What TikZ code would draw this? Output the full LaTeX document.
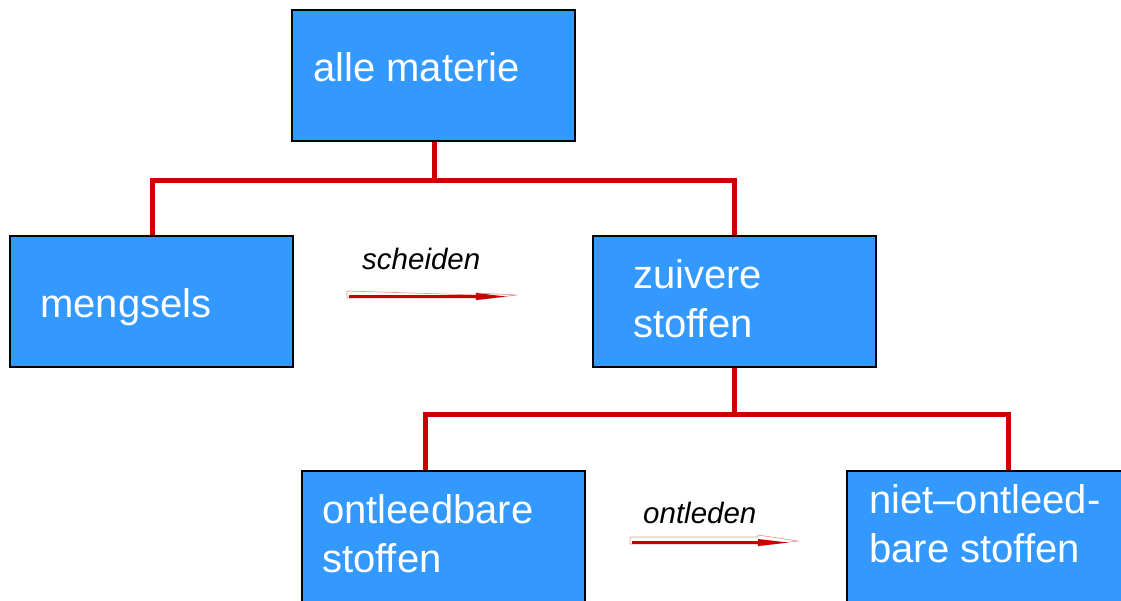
\documentclass[tikz,border=0pt]{standalone}
\usepackage{fontspec}
\setmainfont{Liberation Sans}
\usetikzlibrary{calc}
\definecolor{boxblue}{RGB}{51,153,255}
\definecolor{linered}{RGB}{204,0,0}
\definecolor{arrowred}{RGB}{200,0,0}
\definecolor{arrowpink}{RGB}{240,150,150}
\tikzset{
  catbox/.style={draw=black, line width=1.5pt, fill=boxblue, minimum width=283pt, minimum height=131pt, inner sep=0pt, outer sep=0pt, anchor=north west},
  boxtext/.style={text=white, font=\fontsize{40}{49}\selectfont, align=left, anchor=base west, inner sep=0pt},
  verb/.style={font=\fontsize{29.5}{34}\selectfont\itshape, anchor=base west, inner sep=0pt},
  tree/.style={draw=linered, line width=5pt},
  arrowbody/.style={draw=arrowpink, line width=0.7pt, fill=white},
  arrowshaft/.style={draw=arrowred, line width=2.5pt},
  arrowheadfill/.style={fill=arrowred},
}
\begin{document}
\begin{tikzpicture}[x=1pt,y=-1pt]
\useasboundingbox (0,0) rectangle (1121,600);
\begin{scope}
\clip (0,0) rectangle (1121,600);
% box positions as coordinates
\coordinate (alleNW) at (292,10);
\coordinate (mengNW) at (10,236);
\coordinate (zuivNW) at (593,236);
\coordinate (ontlNW) at (302,471);
\coordinate (nietNW) at (847,471);
% connector attachment points
\coordinate (alleS) at (434,141);
\coordinate (mengN) at (152,236);
\coordinate (zuivN) at (734,236);
\coordinate (zuivS) at (734,367);
\coordinate (ontlN) at (425,471);
\coordinate (nietN) at (1008,471);
% tree connectors
\draw[tree] (alleS) -- (alleS |- 0,180) coordinate (j1);
\draw[tree] (mengN) |- (j1) -| (zuivN);
\draw[tree] (zuivS) -- (zuivS |- 0,414) coordinate (j2);
\draw[tree] (ontlN) |- (j2) -| (nietN);
% boxes
\node[catbox] (alle) at (alleNW) {};
\node[catbox] (meng) at (mengNW) {};
\node[catbox] (zuiv) at (zuivNW) {};
\node[catbox] (ontl) at (ontlNW) {};
\node[catbox] (niet) at (nietNW) {};
% box texts (base = baseline of last line)
\node[boxtext] (alleT) at (313,81) {alle materie};
\node[boxtext] (mengT) at (40,317) {mengsels};
\node[boxtext] (zuivT) at (633,337) {zuivere\\stoffen};
\node[boxtext] (ontlT) at (322,572) {ontleedbare\\stoffen};
\node[boxtext] (nietT) at (869,562) {niet–ontleed-\\bare stoffen};
% process labels
\node[verb] (scheT) at (362,269) {scheiden};
\node[verb] (ontdT) at (643,523) {ontleden};
% process arrows
\coordinate (a1s) at (347,291);
\coordinate (a1e) at (517,295);
\coordinate (a2s) at (630,537);
\coordinate (a2e) at (798,541);
\draw[arrowbody] (a1s) -- (a1e -| 476,0) |- ++(0,-2) -- (a1e) -- (476,300) -- (476,298) -- (a1s |- 0,298) -- cycle;
\draw[arrowshaft] ($(a1s)+(2,5.5)$) -- (478,296.5);
\fill[arrowheadfill] (476,293) -- (506,296.5) -- (476,300) -- cycle;
\draw[arrowbody] (a2s) -- (758,537) -- (758,535) -- (a2e) -- (758,546) -- (758,544) -- (a2s |- 0,544) -- cycle;
\draw[arrowshaft] ($(a2s)+(2,5.5)$) -- (760,542.5);
\fill[arrowheadfill] (758,539) -- (788,542.5) -- (758,546) -- cycle;
\end{scope}
\end{tikzpicture}
\end{document}
